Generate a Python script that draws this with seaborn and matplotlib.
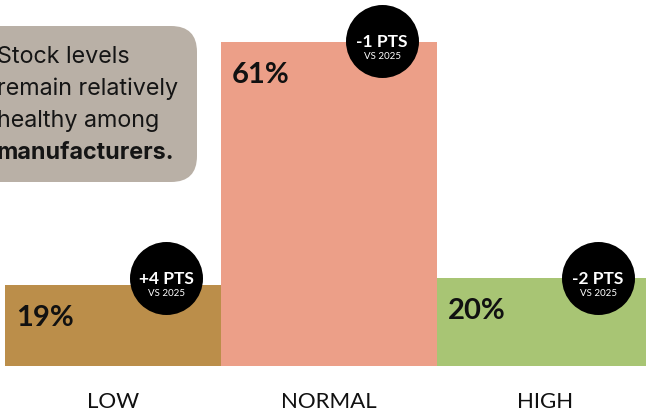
import matplotlib
matplotlib.use("Agg")
import matplotlib.pyplot as plt
import seaborn as sns
import pandas as pd
from matplotlib.patches import FancyBboxPatch

# ---- data ----
categories = ["LOW", "NORMAL", "HIGH"]
shares = [19, 61, 20]              # labelled values (%)
bar_heights = [15.2, 61.0, 16.5]   # drawn bar heights
changes = ["+4 PTS", "-1 PTS", "-2 PTS"]
compare_label = "VS 2025"
note_lines = ["Stock levels", "remain relatively", "healthy among"]
note_bold = "manufacturers."
colors = ["#BB8E4A", "#EC9F88", "#A8C574"]

# ---- layout ----
W, H, DPI = 646, 414, 100
PT = 72 / DPI
base_px = 366.7
px_per_unit_y = 5.3
px_per_cat = 216
cat0_px = 113

sns.set_theme(style="white")
plt.rcParams["font.family"] = ["Lato", "DejaVu Sans"]

fig = plt.figure(figsize=(W / DPI, H / DPI), dpi=DPI)
ax = fig.add_axes([0, (H - base_px) / H, 1, base_px / H])

df = pd.DataFrame({"cat": categories, "h": bar_heights})
sns.barplot(data=df, x="cat", y="h", hue="cat", palette=colors, width=1.0,
            saturation=1, legend=False, ax=ax, linewidth=0, edgecolor="none")

ax.set_xlim(-cat0_px / px_per_cat, (W - cat0_px) / px_per_cat)
ax.set_ylim(0, base_px / px_per_unit_y)
for s in ax.spines.values():
    s.set_visible(False)
ax.set_yticks([])
ax.set_xlabel("")
ax.set_ylabel("")
ax.tick_params(axis="x", length=0, pad=18, labelsize=16, labelcolor="#111111")
for lbl in ax.get_xticklabels():
    lbl.set_fontweight("normal")

badge_dy_px = [7, 1, 0]
for i, (v, h, ch) in enumerate(zip(shares, bar_heights, changes)):
    ax.annotate(f"{v}%", xy=(i - 0.5, h), xytext=(11 * PT, -32 * PT),
                textcoords="offset points", ha="left", va="center",
                fontsize=21, fontweight="bold", color="#111111")
    cx = i + 0.5 - 55 / px_per_cat
    cy = h + badge_dy_px[i] / px_per_unit_y
    ax.scatter([cx], [cy], s=(73 * PT) ** 2, color="black", zorder=5,
               clip_on=False, linewidths=0)
    ax.annotate(ch, xy=(cx, cy), xytext=(0, 0), textcoords="offset points",
                ha="center", va="center", fontsize=12.5, fontweight="bold",
                color="white", zorder=6, annotation_clip=False)
    ax.annotate(compare_label, xy=(cx, cy), xytext=(0, -14 * PT),
                textcoords="offset points", ha="center", va="center",
                fontsize=7, color="white", zorder=6, annotation_clip=False)

# overlay in pixel coordinates for the note box
ov = fig.add_axes([0, 0, 1, 1])
ov.set_xlim(0, W)
ov.set_ylim(H, 0)
ov.axis("off")
ov.patch.set_alpha(0)
box = FancyBboxPatch((-40, 27), 237, 156, boxstyle="round,pad=0,rounding_size=26",
                     facecolor="#B9B0A6", edgecolor="none")
ov.add_patch(box)
ys = [57, 89, 121, 153]
for y, t in zip(ys, note_lines):
    ov.text(-3, y, t, ha="left", va="center", fontsize=16.8,
            family=["Inter", "DejaVu Sans"], color="#151515")
ov.text(-3, ys[3], note_bold, ha="left", va="center", fontsize=16.8,
        fontweight="bold", family=["Inter", "DejaVu Sans"], color="#151515")

fig.savefig("out.png", dpi=DPI)
